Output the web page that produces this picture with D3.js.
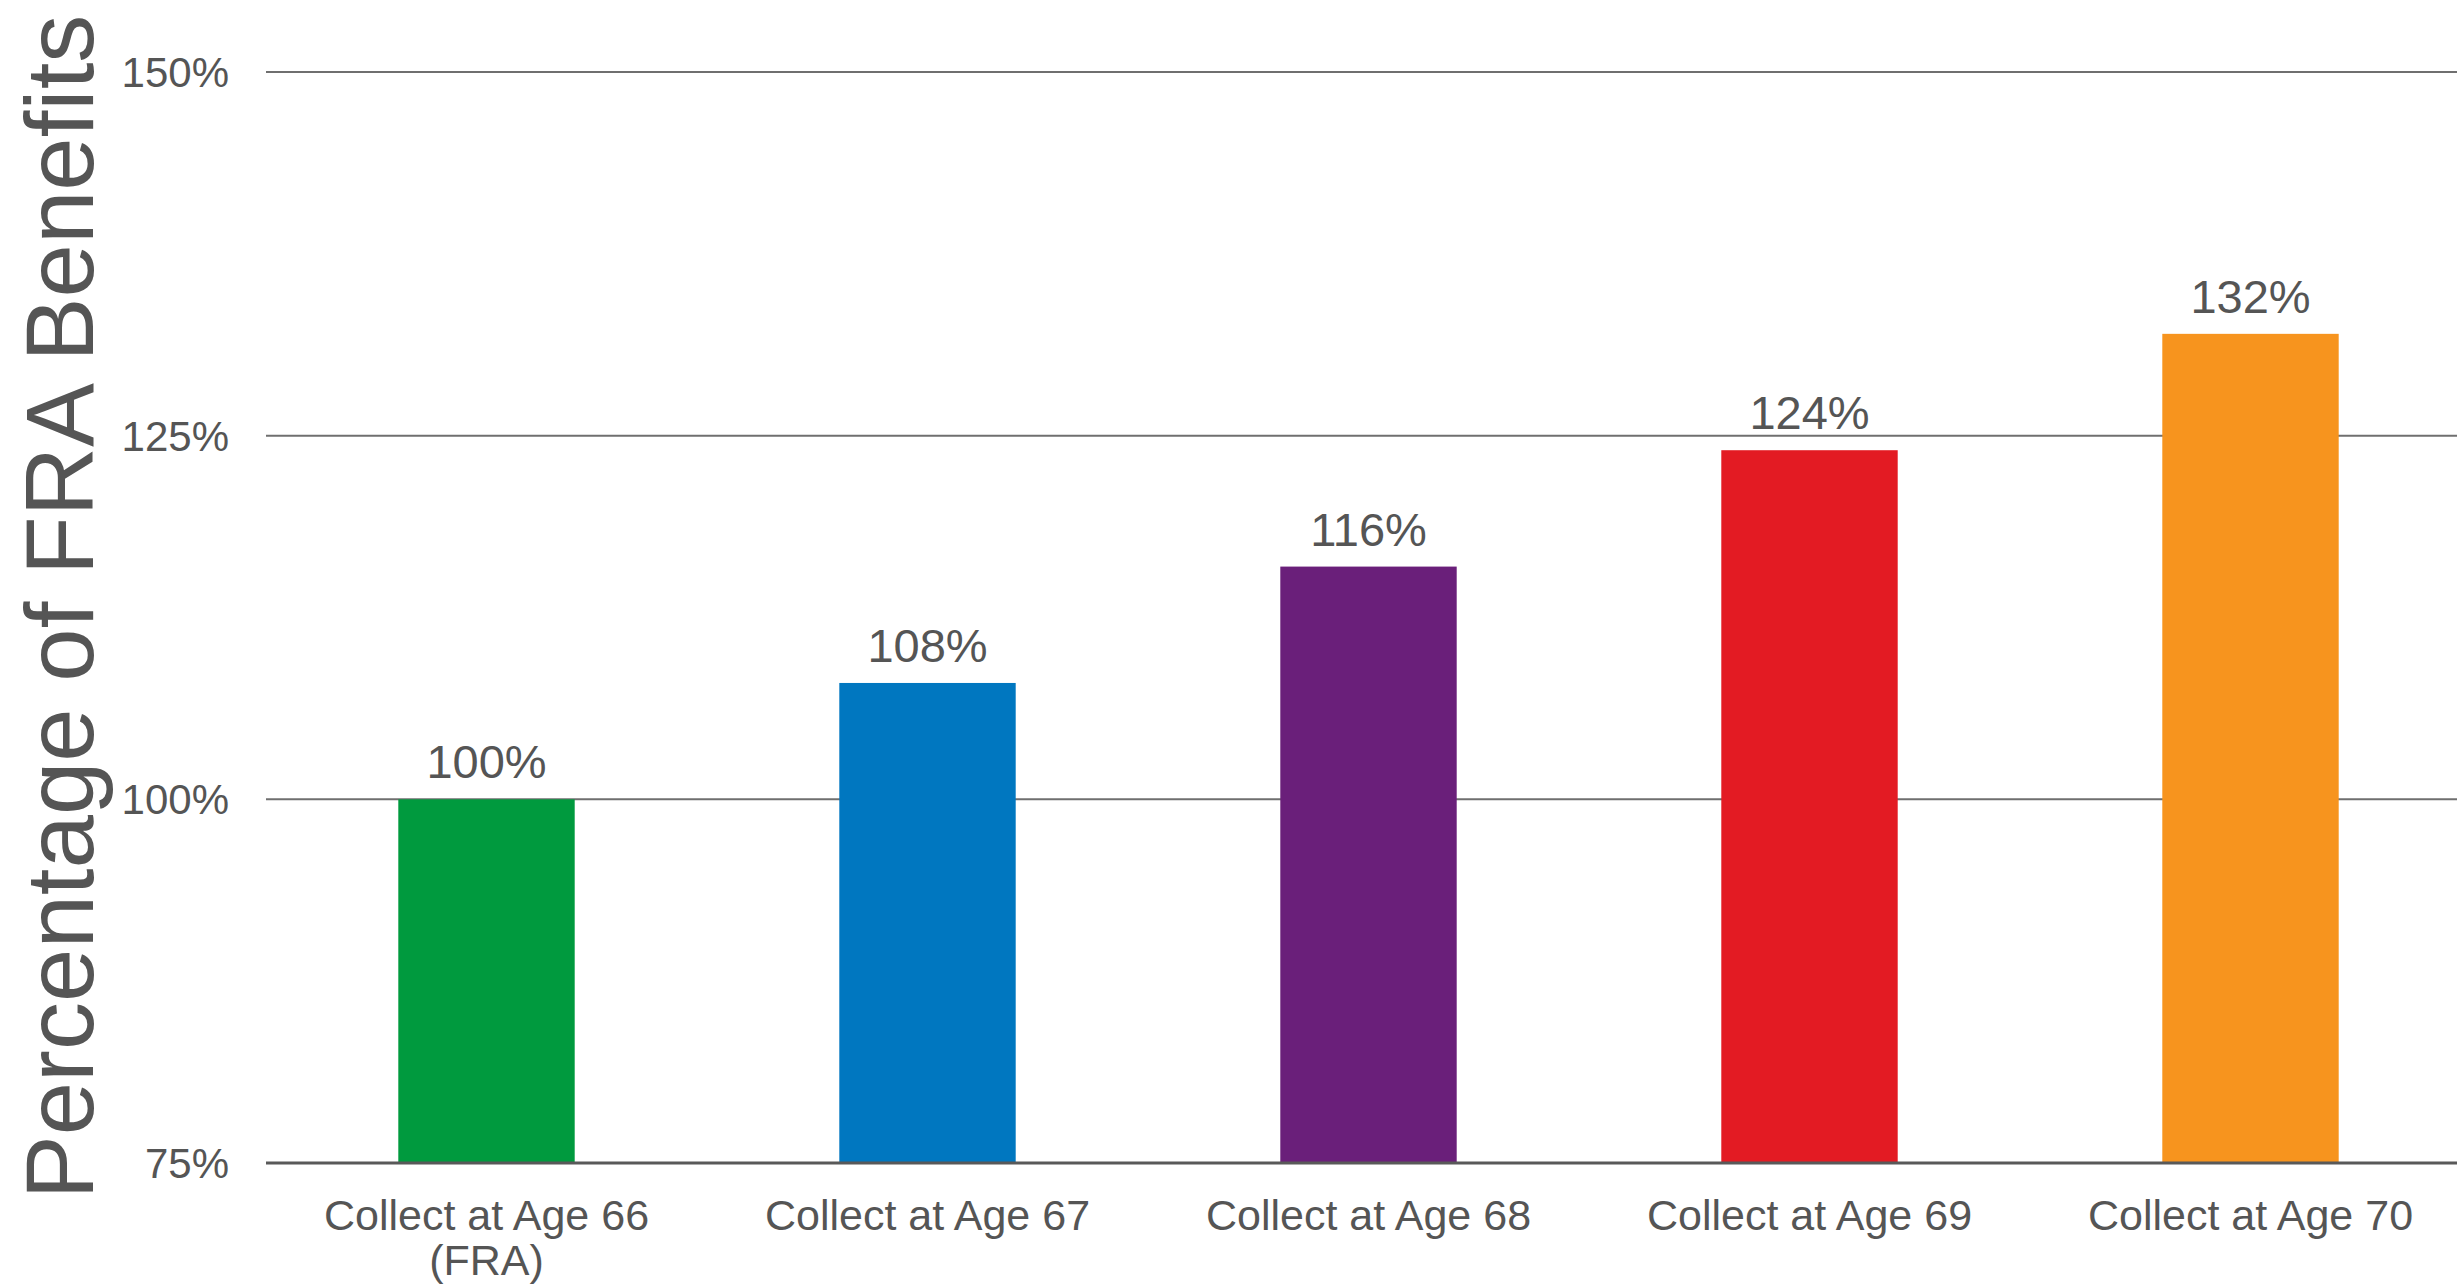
<!DOCTYPE html>
<html><head><meta charset="utf-8">
<script src="https://cdn.jsdelivr.net/npm/d3@7"></script>
<style>html,body{margin:0;padding:0;background:#fff;}svg{display:block;}</style>
</head><body>
<script>
const categories = [["Collect at Age 66","(FRA)"],["Collect at Age 67"],["Collect at Age 68"],["Collect at Age 69"],["Collect at Age 70"]];
const values = [100,108,116,124,132];
const valueLabels = ["100%","108%","116%","124%","132%"];
const colors = ["#009a3e","#0077c0","#6a1f7a","#e31b23","#f7941e"];
const yTicks = [75,100,125,150];
const yTickLabels = ["75%","100%","125%","150%"];
const yTitle = "Percentage of FRA Benefits";

const W = 2457, H = 1285;
const font = "Arial, 'Liberation Sans', sans-serif";
const textColor = "#555555";
const svg = d3.select("body").append("svg").attr("width", W).attr("height", H);

const x = d3.scaleBand().domain(d3.range(values.length)).range([266, 2471]).paddingInner(0.6).paddingOuter(0.3);
const y = d3.scaleLinear().domain([75,150]).range([1163,72]);

// gridlines
svg.append("g").selectAll("line").data(yTicks.slice(1)).join("line")
  .attr("x1", 266).attr("x2", W).attr("y1", d=>y(d)).attr("y2", d=>y(d))
  .attr("stroke", "#6f6f6f").attr("stroke-width", 2);

// bars
svg.append("g").selectAll("rect").data(values).join("rect")
  .attr("x", (d,i)=>x(i)).attr("width", x.bandwidth())
  .attr("y", d=>y(d)).attr("height", d=>y(75)-y(d))
  .attr("fill", (d,i)=>colors[i]);

// axis line
svg.append("line").attr("x1",266).attr("x2",W).attr("y1",y(75)).attr("y2",y(75))
  .attr("stroke","#595959").attr("stroke-width",3);

// y tick labels
svg.append("g").selectAll("text").data(yTicks).join("text")
  .attr("x", 229).attr("y", d=>y(d)).attr("dy","0.36em")
  .attr("text-anchor","end").attr("font-family",font).attr("font-size",42).attr("fill",textColor)
  .text((d,i)=>yTickLabels[i]);

// value labels
svg.append("g").selectAll("text").data(values).join("text")
  .attr("x",(d,i)=>x(i)+x.bandwidth()/2).attr("y", d=>y(d)-21)
  .attr("text-anchor","middle").attr("font-family",font).attr("font-size",47).attr("fill",textColor)
  .text((d,i)=>valueLabels[i]);

// category labels
const cg = svg.append("g").selectAll("text").data(categories).join("text")
  .attr("x",(d,i)=>x(i)+x.bandwidth()/2).attr("y", 1230)
  .attr("text-anchor","middle").attr("font-family",font).attr("font-size",43).attr("fill",textColor);
cg.selectAll("tspan").data((d,i)=>d.map(t=>({t,i}))).join("tspan")
  .attr("x", d=>x(d.i)+x.bandwidth()/2).attr("dy",(d,j)=>j===0?0:45).text(d=>d.t);

// y title
svg.append("text").attr("transform","translate(93,607) rotate(-90)")
  .attr("text-anchor","middle").attr("font-family",font).attr("font-size",96).attr("fill",textColor)
  .text(yTitle);
</script>
</body></html>
